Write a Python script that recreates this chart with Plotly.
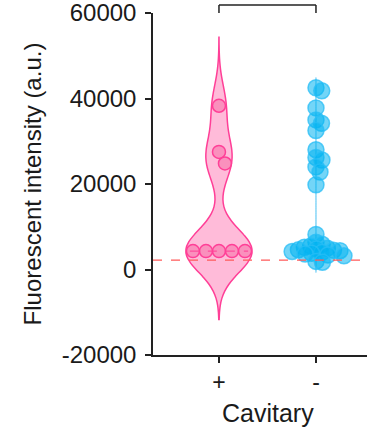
import numpy as np
import plotly.graph_objects as go

# ---- data ----
categories = ["+", "-"]
pos_values = [38300, 27500, 24800, 4300, 4300, 4300, 4300, 4300]
neg_values = [42500, 41800, 37800, 35000, 34200, 32500, 28000, 26200, 25600, 24000, 22800, 19800,
              8200, 6400,
              5900, 5500, 5200, 5000, 4800, 4600, 4500, 4400, 4200, 4000, 3800, 3600, 3400, 3200,
              1900, 1700]
threshold = 2200
y_ticks = [-20000, 0, 20000, 40000, 60000]
y_ticklabels = ["-20000", "0", "20000", "40000", "60000"]
x_title = "Cavitary"
y_title = "Fluorescent intensity (a.u.)"

# ---- layout geometry ----
W, H = 367, 429
ML, MR, MT, MB = 153, 0, 13, 74
xr = [-0.68, 1.526]
yr = [-20000, 60000]
px_x = (W - ML - MR) / (xr[1] - xr[0])
px_y = (H - MT - MB) / (yr[1] - yr[0])


def beeswarm(vals, diam_px):
    order = np.argsort(-np.array(vals), kind="stable")
    placed = []
    offs = np.zeros(len(vals))
    for i in order:
        y = vals[i] * px_y
        cands = [0.0]
        for (xj, yj) in placed:
            dy = y - yj
            if abs(dy) < diam_px:
                dx = np.sqrt(diam_px ** 2 - dy ** 2)
                cands += [xj + dx, xj - dx]
        cands.sort(key=abs)
        c = 0.0
        for c in cands:
            if all((c - xj) ** 2 + (y - yj) ** 2 >= diam_px ** 2 - 1e-6 for (xj, yj) in placed):
                break
        placed.append((c, y))
        offs[i] = c / px_x
    return offs


def kde_span(vals, bw, k=3):
    return [min(vals) - k * bw, max(vals) + k * bw]


pos_off = beeswarm(pos_values, 13)
neg_off = beeswarm(neg_values, 6.5)

pink_line = "#ff3f97"
pink_fill = "rgba(255,120,180,0.5)"
blue_line = "rgba(40,190,245,0.75)"
blue_fill = "rgba(0,178,240,0.55)"

bw_pos = 5000
bw_neg = 1200
fig = go.Figure()
fig.add_trace(go.Violin(x=[0] * len(pos_values), y=pos_values, width=0.68, bandwidth=bw_pos,
                        spanmode="manual", span=kde_span(pos_values, bw_pos, 3.2),
                        points=False, line=dict(color=pink_line, width=1.5),
                        fillcolor=pink_fill, showlegend=False, hoverinfo="skip"))
fig.add_trace(go.Violin(x=[1] * len(neg_values), y=neg_values, width=0.03, bandwidth=bw_neg,
                        spanmode="manual", span=kde_span(neg_values, bw_neg, 2),
                        points=False, line=dict(color="rgba(110,205,245,0.8)", width=1),
                        fillcolor="rgba(110,205,245,0.6)", showlegend=False, hoverinfo="skip"))

med = float(np.median(pos_values))
fig.add_shape(type="line", xref="x", yref="y", x0=-0.3, x1=0.3, y0=med, y1=med,
              line=dict(color=pink_line, width=1, dash="dash"))

fig.add_trace(go.Scatter(x=0 + pos_off, y=pos_values, mode="markers", showlegend=False,
                         marker=dict(size=13, color="rgba(245,110,165,0.55)",
                                     line=dict(color=pink_line, width=1.5))))
fig.add_trace(go.Scatter(x=1 + neg_off, y=neg_values, mode="markers", showlegend=False,
                         marker=dict(size=16, color=blue_fill,
                                     line=dict(color=blue_line, width=1.5))))

# threshold line
fig.add_shape(type="line", xref="paper", yref="y", x0=0, x1=1, y0=threshold, y1=threshold,
              line=dict(color="#ff5a5a", width=1.3, dash="dash"))

# significance bracket
yb = 1 + 8 / (H - MT - MB)
for xx in (0, 1):
    fig.add_shape(type="line", xref="x", yref="paper", x0=xx, x1=xx, y0=1.0, y1=yb,
                  line=dict(color="#222", width=1.5))
fig.add_shape(type="line", xref="x", yref="paper", x0=0, x1=1, y0=yb, y1=yb,
              line=dict(color="#222", width=1.5))

font = dict(family="Liberation Sans, Arial, sans-serif", color="#1a1a1a")
fig.add_annotation(text=x_title, xref="paper", yref="paper",
                   x=(268 - ML) / (W - ML - MR), y=-(413 - (H - MB)) / (H - MT - MB),
                   xanchor="center", yanchor="middle", showarrow=False,
                   font=dict(size=25, **font))

fig.update_layout(
    width=W, height=H, margin=dict(l=ML, r=MR, t=MT, b=MB),
    paper_bgcolor="white", plot_bgcolor="white",
    font=dict(size=22, **font),
    xaxis=dict(range=xr, tickvals=[0, 1], ticktext=categories, showgrid=False, zeroline=False,
               automargin=False,
               showline=True, linecolor="#222", linewidth=1.5, ticks="outside", ticklen=6,
               tickwidth=1.5, tickcolor="#222", tickfont=dict(size=23)),
    yaxis=dict(range=yr, tickvals=y_ticks, ticktext=y_ticklabels, showgrid=False, zeroline=False,
               automargin=False, ticklabelstandoff=4, ticklabeloverflow="allow",
               showline=True, linecolor="#222", linewidth=1.5, ticks="outside", ticklen=6,
               tickwidth=1.5, tickcolor="#222", tickfont=dict(size=24),
               title=dict(text=y_title, font=dict(size=24), standoff=13)),
)

fig.write_html("out.html", config={"displayModeBar": False},
               post_script="document.body.style.margin='0';")
